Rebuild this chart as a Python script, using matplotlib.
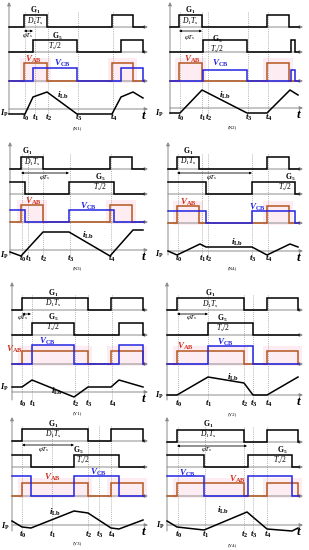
import matplotlib
matplotlib.use('Agg')
import matplotlib.pyplot as plt
from matplotlib.patches import Rectangle

plt.rcParams['mathtext.fontset'] = 'custom'
plt.rcParams['mathtext.rm'] = 'Liberation Serif'
plt.rcParams['mathtext.it'] = 'Liberation Serif:italic'
plt.rcParams['mathtext.bf'] = 'Liberation Serif:bold'
plt.rcParams['mathtext.bfit'] = 'Liberation Serif:italic:bold'
plt.rcParams['font.family'] = ['Liberation Serif', 'DejaVu Serif']

# ------------------------------------------------------------------ data
MODES = ['N1', 'N2', 'N3', 'N4', 'Y1', 'Y2', 'Y3', 'Y4']

# event instants t0..t4 (time axis, px units)
N1_T = [25, 35, 48, 78, 113]
N2_T = [25, 47, 53, 93, 113]
N3_T = [22, 28, 43, 70, 111]
N4_T = [23, 47, 53, 97, 113]
Y1_T = [22, 32, 75, 88, 112]
Y2_T = [23, 53, 89, 98, 113]
Y3_T = [22, 52, 88, 99, 111]
Y4_T = [23, 50, 89, 98, 112]

# G1 gate pulses (on, off) -> also V_AB pulses
N1_G1 = [(24, 47), (112, 133)]
N2_G1 = [(24, 47), (112, 134)]
N3_G1 = [(21, 43), (110, 132)]
N4_G1 = [(22, 44), (112, 134)]
Y1_G1 = [(22, 88), (111, 143)]
Y2_G1 = [(22, 89), (112, 143)]
Y3_G1 = [(22, 88), (111, 143)]
Y4_G1 = [(22, 89), (112, 143)]

# G5 gate pulses (on, off) -> also V_CB pulses
N1_G5 = [(33, 77), (121, 143)]
N2_G5 = [(48, 92), (136, 140)]
N3_G5 = [(0, 25), (69, 114)]
N4_G5 = [(0, 51), (97, 140)]
Y1_G5 = [(32, 74), (119, 143)]
Y2_G5 = [(53, 98)]
Y3_G5 = [(0, 31), (74, 119)]
Y4_G5 = [(0, 49), (93, 137)]

# phase shift phi*Ts span
N1_PHI = [24, 33]
N2_PHI = [24, 47]
N3_PHI = [21, 69]
N4_PHI = [22, 97]
Y1_PHI = [22, 31]
Y2_PHI = [22, 53]
Y3_PHI = [22, 74]
Y4_PHI = [22, 92]

# V_AB / V_CB amplitudes
N1_V = [18, 13]
N2_V = [18, 11]
N3_V = [17, 12]
N4_V = [17, 12]
Y1_V = [13, 19]
Y2_V = [13, 18]
Y3_V = [13, 20]
Y4_V = [13, 20]

# inductor current i_Lb: time and value
N1_ILB_T = [0, 25, 33, 47, 77, 112, 121, 133, 143]
N1_ILB = [-5, -5, 12, 17, -5, -5, 12, 17, 11]
N2_ILB_T = [0, 25, 47, 92, 112, 135, 143]
N2_ILB = [-5, -5, 18, -5, -5, 18, 13]
N3_ILB_T = [0, 21, 43, 69, 110, 133, 143]
N3_ILB = [-2, -6, 18, 18, -6, 20, 20]
N4_ILB_T = [0, 22, 45, 51, 97, 112, 135, 143]
N4_ILB = [0, -4, 7, 4, 4, -4, 7, 4]
Y1_ILB_T = [0, 22, 32, 74, 88, 111, 119, 143]
Y1_ILB = [5, 5, 12, -5, 5, 5, 12, 5]
Y2_ILB_T = [0, 22, 53, 89, 98, 112, 143]
Y2_ILB = [0, 0, 18, 12, 0, 0, 18]
Y3_ILB_T = [0, 22, 31, 74, 88, 111, 119, 143]
Y3_ILB = [4, -2, -3, 14, 12, -3, -4, 5]
Y4_ILB_T = [0, 22, 49, 92, 112, 137, 143]
Y4_ILB = [4, -2, -5, 13, -4, -6, -3]

DATA = {
    'N1': (N1_T, N1_G1, N1_G5, N1_PHI, N1_V, N1_ILB_T, N1_ILB),
    'N2': (N2_T, N2_G1, N2_G5, N2_PHI, N2_V, N2_ILB_T, N2_ILB),
    'N3': (N3_T, N3_G1, N3_G5, N3_PHI, N3_V, N3_ILB_T, N3_ILB),
    'N4': (N4_T, N4_G1, N4_G5, N4_PHI, N4_V, N4_ILB_T, N4_ILB),
    'Y1': (Y1_T, Y1_G1, Y1_G5, Y1_PHI, Y1_V, Y1_ILB_T, Y1_ILB),
    'Y2': (Y2_T, Y2_G1, Y2_G5, Y2_PHI, Y2_V, Y2_ILB_T, Y2_ILB),
    'Y3': (Y3_T, Y3_G1, Y3_G5, Y3_PHI, Y3_V, Y3_ILB_T, Y3_ILB),
    'Y4': (Y4_T, Y4_G1, Y4_G5, Y4_PHI, Y4_V, Y4_ILB_T, Y4_ILB),
}

# ------------------------------------------------------------------ layout
LAY = {
    'N1': dict(o=(0, 0), ax=9, g1=27, g5=52, v=81, i=109, tl=118, cap=128),
    'N2': dict(o=(155, 0), ax=15, g1=27, g5=52, v=81, i=108, tl=118, cap=127),
    'N3': dict(o=(0, 140), ax=10, g1=29, g5=54, v=82, i=110, tl=119, cap=128),
    'N4': dict(o=(155, 140), ax=13, g1=29, g5=54, v=83, i=111, tl=119, cap=128),
    'Y1': dict(o=(0, 280), ax=12, g1=30, g5=55, v=84, i=112, tl=124, cap=133),
    'Y2': dict(o=(155, 280), ax=12, g1=30, g5=55, v=84, i=115, tl=124, cap=134),
    'Y3': dict(o=(0, 415), ax=12, g1=26, g5=52, v=81, i=110, tl=120, cap=128),
    'Y4': dict(o=(155, 415), ax=12, g1=27, g5=52, v=81, i=110, tl=120, cap=130),
}
TXT = {
    'N1': dict(G1=(35, 10), D=(35, 21), phi=(28, 35), G5=(57, 36), Ts=(55, 46),
               VAB=(33, 59), VCB=(62, 63), I=(63, 95), Ip=(4, 113)),
    'N2': dict(G1=(35, 10), D=(35, 21), phi=(35, 37), G5=(62, 39), Ts=(62, 49),
               VAB=(37, 59), VCB=(65, 63), I=(70, 95), Ip=(4, 113)),
    'N3': dict(G1=(27, 11), D=(32, 22), phi=(45, 37), G5=(100, 37), Ts=(100, 47),
               VAB=(33, 61), VCB=(88, 66), I=(88, 95), Ip=(4, 115)),
    'N4': dict(G1=(33, 11), D=(33, 21), phi=(57, 37), G5=(135, 37), Ts=(130, 47),
               VAB=(33, 62), VCB=(102, 67), I=(82, 102), Ip=(4, 114)),
    'Y1': dict(G1=(53, 13), D=(53, 23), phi=(23, 38), G5=(53, 37), Ts=(53, 47),
               VAB=(14, 69), VCB=(47, 61), I=(57, 111), Ip=(4, 107)),
    'Y2': dict(G1=(55, 13), D=(55, 24), phi=(37, 37), G5=(67, 38), Ts=(68, 48),
               VAB=(30, 66), VCB=(70, 62), I=(78, 97), Ip=(4, 115)),
    'Y3': dict(G1=(53, 9), D=(53, 19), phi=(44, 34), G5=(78, 35), Ts=(83, 45),
               VAB=(52, 62), VCB=(98, 57), I=(55, 97), Ip=(5, 111)),
    'Y4': dict(G1=(53, 9), D=(53, 19), phi=(52, 34), G5=(127, 35), Ts=(125, 45),
               VAB=(82, 64), VCB=(32, 58), I=(68, 95), Ip=(5, 110)),
}

BROWN = '#b5561f'
BLUE = '#2323e0'
RED_TXT = '#d0311c'
GRAY = '#8a8a8a'
XEND = 148
GAMP = 12

fig = plt.figure(figsize=(3.09, 5.50), dpi=100)
ax = fig.add_axes([0, 0, 1, 1])
ax.set_xlim(0, 309)
ax.set_ylim(550, 0)
ax.axis('off')


def pulses_xy(pulses, x0, x1, base, amp):
    xs, ys = [x0], [base]
    for a, b in pulses:
        a = max(a, x0)
        if a <= x0:
            xs, ys = [x0], [base - amp]
        else:
            xs += [a, a]
            ys += [base, base - amp]
        if b >= x1 - 4:
            xs += [b]
            ys += [base - amp]
            return xs, ys
        xs += [b, b]
        ys += [base - amp, base]
    xs.append(x1 - 4)
    ys.append(base)
    return xs, ys


def harrow(x0, x1, y):
    ax.annotate('', xy=(x1, y), xytext=(x0, y),
                arrowprops=dict(arrowstyle='-|>', color=GRAY, lw=0.7,
                                mutation_scale=5, shrinkA=0, shrinkB=0))


for m in MODES:
    T, G1, G5, PHI, V, IT, IV = DATA[m]
    L = LAY[m]
    tx = TXT[m]
    ox, oy = L['o']
    axx = ox + L['ax']
    X = lambda v: ox + max(v, L['ax'])

    # pink shading behind V_AB pulses
    for a, b in G1:
        ax.add_patch(Rectangle((X(a) - 4, oy + L['v'] - V[0] - 5), (b - a) + 8,
                               V[0] + 7, facecolor='#fdecf2', edgecolor='none',
                               zorder=0))

    # vertical axis
    ax.annotate('', xy=(axx, oy + 2), xytext=(axx, oy + L['tl'] - 4),
                arrowprops=dict(arrowstyle='-|>', color=GRAY, lw=0.7,
                                mutation_scale=5, shrinkA=0, shrinkB=0))
    # horizontal axes
    for key in ['g1', 'g5', 'v', 'i']:
        harrow(axx, ox + XEND, oy + L[key])

    # dotted event lines
    for t in T:
        ax.plot([ox + t, ox + t], [oy + L['g1'] - 15, oy + L['tl'] - 4],
                ls=(0, (1, 1.5)), color='#9a9a9a', lw=0.6, zorder=1)

    # gate signals
    for pl, key, col, amp in [(G1, 'g1', 'black', GAMP), (G5, 'g5', 'black', GAMP),
                              (G1, 'v', BROWN, V[0]), (G5, 'v', BLUE, V[1])]:
        xs, ys = pulses_xy(pl, L['ax'], XEND, L[key], amp)
        ax.plot([ox + x for x in xs], [oy + y for y in ys], color=col, lw=1.1,
                solid_joinstyle='miter', zorder=3)

    # current
    ax.plot([X(t) for t in IT], [oy + L['i'] - v for v in IV], color='black',
            lw=1.1, zorder=3)

    # phi arrow
    ax.annotate('', xy=(ox + PHI[1], oy + L['g1'] + 4), xytext=(ox + PHI[0], oy + L['g1'] + 4),
                arrowprops=dict(arrowstyle='<|-|>', color='black', lw=0.6,
                                mutation_scale=3, shrinkA=0, shrinkB=0))

    # texts
    def put(key, s, **kw):
        x, y = tx[key]
        ax.text(ox + x, oy + y, s, ha='center', va='center', **kw)

    put('G1', r'$\mathbf{G_1}$', fontsize=5.5)
    put('D', r'$D_1T_s$', fontsize=5.5)
    put('phi', r'$\varphi T_s$', fontsize=5)
    put('G5', r'$\mathbf{G_5}$', fontsize=5.5)
    put('Ts', r'$T_s/2$', fontsize=5.5)
    put('VAB', r'$\mathbfit{V}_{\mathbf{AB}}$', fontsize=6.5, color=RED_TXT)
    put('VCB', r'$\mathbfit{V}_{\mathbf{CB}}$', fontsize=6.5, color=BLUE)
    put('I', r'$\mathbfit{i}_{\mathbf{Lb}}$', fontsize=6.5)
    put('Ip', r'$\mathbfit{I}_{\mathbf{P}}$', fontsize=6)

    for k, t in enumerate(T):
        ax.text(ox + t + 1, oy + L['tl'], r'$\mathbfit{t}_{\mathbf{%d}}$' % k,
                ha='center', va='center', fontsize=6.5)
    ax.text(ox + XEND - 4, oy + L['i'] + 7, r'$\mathbfit{t}$', ha='center',
            va='center', fontsize=9.5)
    ax.text(ox + 77, oy + L['cap'], '(%s)' % m, ha='center', va='center',
            fontsize=3.5)

fig.savefig('out.png', dpi=100)
